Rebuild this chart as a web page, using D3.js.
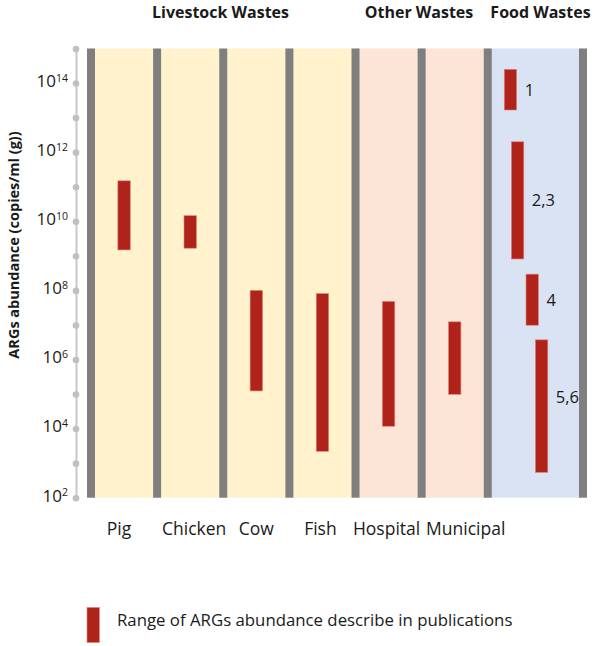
<!DOCTYPE html>
<html>
<head>
<meta charset="utf-8">
<script src="https://cdn.jsdelivr.net/npm/d3@7"></script>
<style>
  body { margin: 0; background: #fff; }
  text { font-family: "Open Sans", sans-serif; fill: #1a1a1a; }
</style>
</head>
<body>
<div id="chart"></div>
<script>
// data
var categories = ["Pig", "Chicken", "Cow", "Fish", "Hospital", "Municipal"];
var catLow  = [1.48e9, 1.66e9, 1.23e5, 2.2e3, 1.17e4, 9.8e4];
var catHigh = [1.48e11, 1.45e10, 1.0e8, 8.1e7, 4.8e7, 1.23e7];

var foodRefs = ["1", "2,3", "4", "5,6"];
var foodLow  = [1.66e13, 8.1e8, 9.8e6, 5.4e2];
var foodHigh = [2.5e14, 2.0e12, 2.95e8, 3.7e6];

var groups = ["Livestock Wastes", "Other Wastes", "Food Wastes"];
var tickExponents = d3.range(2, 16);

// layout
var fullwidth = 597, fullheight = 646;
var foodSpan = 1.44;                         // food column is wider than the others
var groupBounds = [[0, 4], [4, 6], [6, 6 + foodSpan]];
var groupFill = ["#fff2cc", "#fce4d6", "#dae3f3"];
var groupTitleX = [220.5, 419, 540.5];
var foodOffset = [0.343, 0.451, 0.672, 0.814];   // bar centre inside the food column
var refShift = [0, 0, 0, -9];
var labelShift = [-5, 4, 0, -2, -2, 11];
var barW = 12.4;
var red = "#b0231a";

var svg = d3.select("#chart").append("svg")
    .attr("width", fullwidth)
    .attr("height", fullheight);

var x = d3.scaleLinear()
    .domain([0, 6 + foodSpan])
    .range([91, 583]);

var y = d3.scaleLog()
    .domain([1e2, 1e15])
    .range([497.7, 48.5]);

// coloured group backgrounds
svg.selectAll("rect.bg")
    .data(groupBounds)
    .enter().append("rect")
    .attr("class", "bg")
    .attr("x", function(d) { return x(d[0]); })
    .attr("width", function(d) { return x(d[1]) - x(d[0]); })
    .attr("y", y(1e15))
    .attr("height", y(1e2) - y(1e15))
    .attr("fill", function(d, i) { return groupFill[i]; });

// grey column separators
var seps = d3.range(0, 7).concat([6 + foodSpan]);
svg.selectAll("rect.sep")
    .data(seps)
    .enter().append("rect")
    .attr("class", "sep")
    .attr("x", function(d) { return x(d) - 4; })
    .attr("width", 8)
    .attr("y", y(1e15))
    .attr("height", y(1e2) - y(1e15))
    .attr("fill", "#7f7f7f");

// group titles
svg.selectAll("text.group")
    .data(groups)
    .enter().append("text")
    .attr("class", "group")
    .attr("x", function(d, i) { return groupTitleX[i]; })
    .attr("y", 17.5)
    .attr("text-anchor", "middle")
    .style("font-size", "16px")
    .style("font-weight", "bold")
    .text(function(d) { return d; });

// range bars
var catData = categories.map(function(c, i) {
    return {name: c, low: catLow[i], high: catHigh[i], pos: i + 0.5};
});
var foodData = foodRefs.map(function(r, i) {
    return {name: r, low: foodLow[i], high: foodHigh[i], pos: 6 + foodOffset[i]};
});

svg.selectAll("rect.bar")
    .data(catData.concat(foodData))
    .enter().append("rect")
    .attr("class", "bar")
    .attr("x", function(d) { return x(d.pos) - barW / 2; })
    .attr("width", barW)
    .attr("y", function(d) { return y(d.high); })
    .attr("height", function(d) { return y(d.low) - y(d.high); })
    .attr("fill", red)
    .attr("stroke", "#e0857a")
    .attr("stroke-width", 0.6);

// reference numbers beside food bars
svg.selectAll("text.ref")
    .data(foodData)
    .enter().append("text")
    .attr("class", "ref")
    .attr("x", function(d) { return x(d.pos) + barW / 2 + 8; })
    .attr("y", function(d, i) { return y(Math.sqrt(d.low * d.high)) + refShift[i]; })
    .attr("dy", "0.36em")
    .style("font-size", "16.5px")
    .text(function(d) { return d.name; });

// category labels
svg.selectAll("text.cat")
    .data(catData)
    .enter().append("text")
    .attr("class", "cat")
    .attr("x", function(d, i) { return x(d.pos) + labelShift[i]; })
    .attr("y", 535)
    .attr("text-anchor", "middle")
    .style("font-size", "17.5px")
    .text(function(d) { return d.name; });

// y axis
var yAxis = d3.axisLeft(y)
    .tickValues(tickExponents.map(function(e) { return Math.pow(10, e); }))
    .tickSize(0)
    .tickSizeOuter(0)
    .tickFormat("");

var gy = svg.append("g")
    .attr("transform", "translate(76,0)")
    .call(yAxis);

gy.select(".domain")
    .attr("stroke", "#c8c8c8")
    .attr("stroke-width", 2);

gy.selectAll(".tick").append("circle")
    .attr("r", 3.3)
    .attr("fill", "#c0c0c0");

gy.selectAll(".tick")
    .filter(function(d) { return Math.round(Math.log10(d)) % 2 === 0; })
    .append("text")
    .attr("x", -8)
    .attr("dy", "0.2em")
    .attr("text-anchor", "end")
    .style("font-size", "17px")
    .style("fill", "#1a1a1a")
    .each(function(d) {
        var t = d3.select(this);
        t.append("tspan").text("10");
        t.append("tspan")
            .attr("dy", "-0.5em")
            .style("font-size", "10.5px")
            .text(Math.round(Math.log10(d)));
    });

svg.append("text")
    .attr("transform", "translate(19,245) rotate(-90)")
    .attr("text-anchor", "middle")
    .style("font-size", "14.5px")
    .style("font-weight", "bold")
    .text("ARGs abundance (copies/ml (g))");

// legend
svg.append("rect")
    .attr("x", 87)
    .attr("y", 607.5)
    .attr("width", barW)
    .attr("height", 35)
    .attr("fill", red)
    .attr("stroke", "#e0857a")
    .attr("stroke-width", 0.6);

svg.append("text")
    .attr("x", 117)
    .attr("y", 626)
    .style("font-size", "16.8px")
    .text("Range of ARGs abundance describe in publications");
</script>
</body>
</html>
